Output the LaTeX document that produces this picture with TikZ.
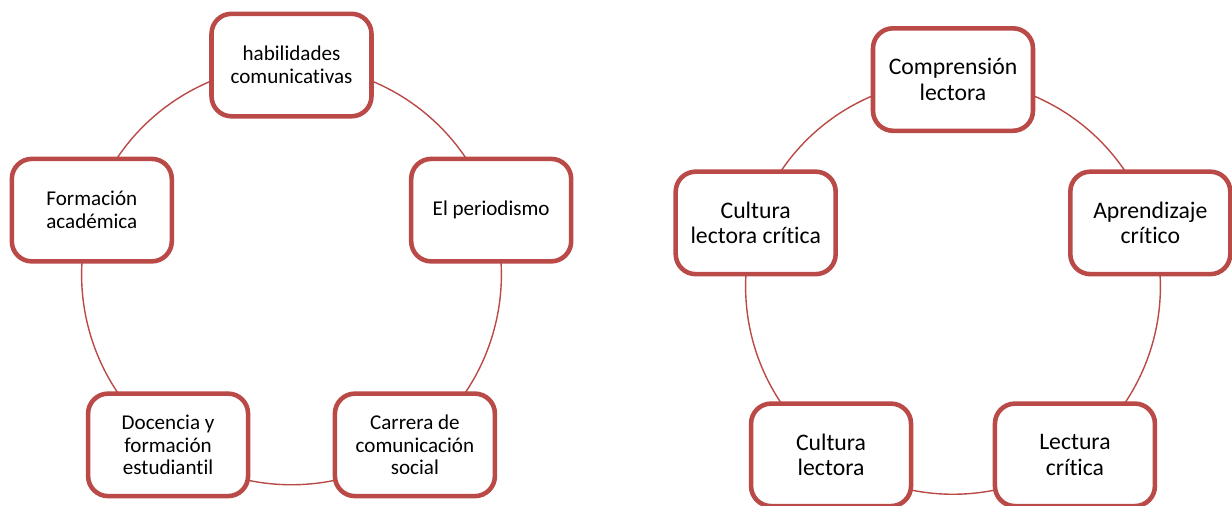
\documentclass[tikz,border=0pt]{standalone}
\usepackage{fontspec}
\setmainfont{Carlito}[RawFeature={-liga;-calt;-dlig;-clig}]
\usetikzlibrary{positioning,calc,backgrounds}

\definecolor{boxred}{RGB}{185,74,71}

\tikzset{
  cyclebox/.style={draw=boxred, line width=2.6pt, fill=white, rounded corners=0.4cm,
    minimum width=3.2cm, minimum height=2.05cm, align=center, inner sep=2pt},
  smalltext/.style={font=\fontsize{12}{13}\selectfont},
  bigtext/.style={font=\fontsize{13.5}{14.6}\selectfont},
  link/.style={draw=boxred, line width=0.8pt, bend left=36, looseness=0.94}
}

\begin{document}
\begin{tikzpicture}[x=0.02cm, y=-0.02cm]
\useasboundingbox (0,0) rectangle (1232,505);

% left cycle
\node[circle, minimum width=8.4cm, inner sep=0pt, outer sep=0pt, name=c1] at (291.5,275) {};

\node[cyclebox,smalltext,name=hab] at (c1.90) {habilidades\\comunicativas};
\node[cyclebox,smalltext,name=per] at (c1.18) {El periodismo};
\node[cyclebox,smalltext,name=car] at (c1.-54) {Carrera de\\comunicación\\social};
\node[cyclebox,smalltext,name=doc] at (c1.-126) {Docencia y\\formación\\estudiantil};
\node[cyclebox,smalltext,name=for] at (c1.162) {Formación\\académica};

% right cycle
\node[circle, minimum width=8.3cm, inner sep=0pt, outer sep=0pt, name=c2] at (953,287) {};

\node[cyclebox,bigtext,name=com] at (c2.90) {Comprensión\\lectora};
\node[cyclebox,bigtext,name=apr] at (c2.18) {Aprendizaje\\crítico};
\node[cyclebox,bigtext,name=lec] at (c2.-54) {Lectura\\crítica};
\node[cyclebox,bigtext,name=cul] at (c2.-126) {Cultura\\lectora};
\node[cyclebox,bigtext,name=ccr] at (c2.162) {Cultura\\lectora crítica};

\begin{scope}[on background layer]
\draw[link] (hab.center) to (per.center);
\draw[link] (per.center) to (car.center);
\draw[link] (car.center) to (doc.center);
\draw[link] (doc.center) to (for.center);
\draw[link] (for.center) to (hab.center);

\draw[link] (com.center) to (apr.center);
\draw[link] (apr.center) to (lec.center);
\draw[link] (lec.center) to (cul.center);
\draw[link] (cul.center) to (ccr.center);
\draw[link] (ccr.center) to (com.center);
\end{scope}
\end{tikzpicture}
\end{document}
